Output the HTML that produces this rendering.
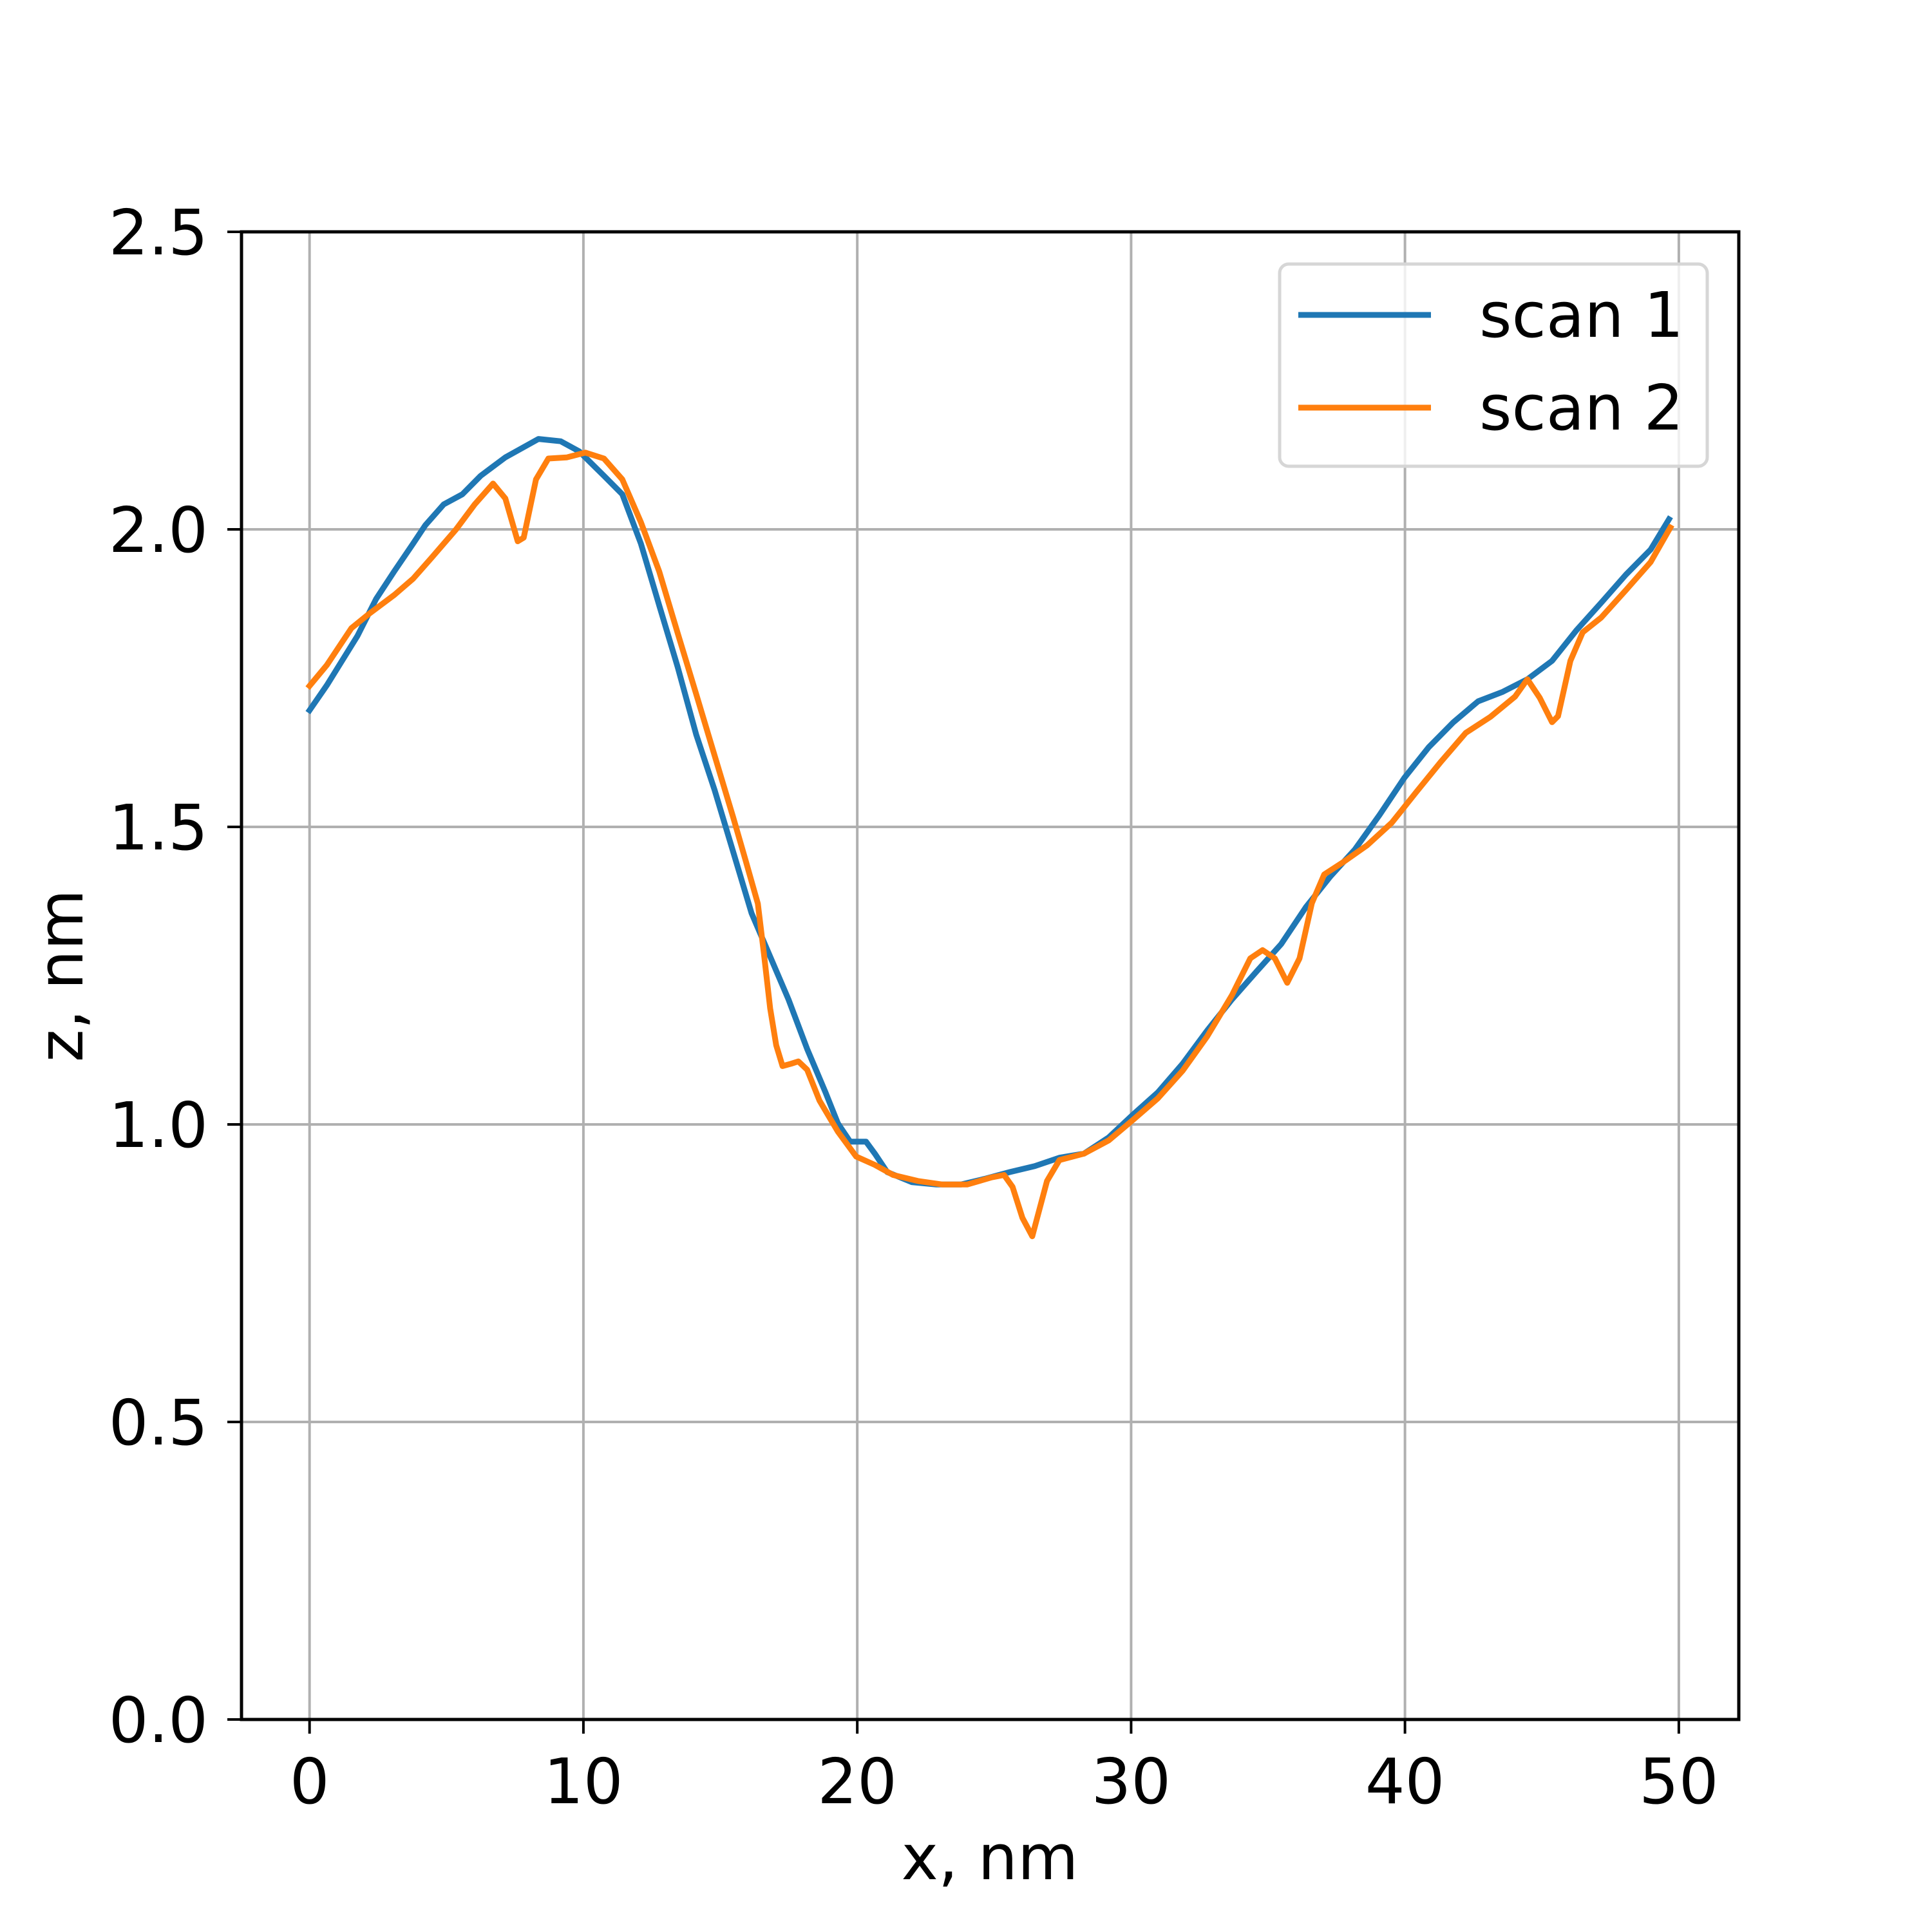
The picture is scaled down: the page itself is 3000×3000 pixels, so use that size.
<!DOCTYPE html>
<html><head><meta charset="utf-8"><style>
html,body{margin:0;padding:0;background:#fff}
svg{display:block}
text{font-family:"DejaVu Sans","Liberation Sans",sans-serif;fill:#000}
</style></head><body>
<svg id="chart" width="3000" height="3000" viewBox="0 0 3000 3000" xmlns="http://www.w3.org/2000/svg">
<rect x="0" y="0" width="3000" height="3000" fill="#fff"/>
<g id="grid"></g>
<g id="series"></g>
<rect x="375" y="360" width="2325" height="2310" fill="none" stroke="#000" stroke-width="5"/>
<g id="ticks"></g>
<text x="1537" y="2918" font-size="97" text-anchor="middle">x, nm</text>
<text x="0" y="0" font-size="97" text-anchor="middle" transform="translate(128,1515) rotate(-90)">z, nm</text>
<g>
<rect x="1987" y="410" width="664" height="314" rx="14" fill="#fff" fill-opacity="0.8" stroke="#d6d6d6" stroke-width="5"/>
<line x1="2016" y1="489" x2="2222" y2="489" stroke="#1f77b4" stroke-width="9"/>
<text x="2297" y="523" font-size="97">scan 1</text>
<line x1="2016" y1="633" x2="2222" y2="633" stroke="#ff7f0e" stroke-width="9"/>
<text x="2297" y="667" font-size="97">scan 2</text>
</g>
</svg>
<script>
const xTicks = [0,10,20,30,40,50];
const yTicks = [0,0.5,1.0,1.5,2.0,2.5];
const yTickLabels = ["0.0","0.5","1.0","1.5","2.0","2.5"];
const scan1X = [0,0.63,1.75,2.43,3.10,3.78,4.23,4.90,5.58,6.25,7.15,8.36,9.17,9.85,10.75,11.42,12.10,12.77,13.44,14.12,14.79,15.47,16.14,16.82,17.49,18.17,18.84,19.29,19.74,20.32,20.64,21.09,21.99,22.89,23.79,24.69,25.58,26.48,27.38,28.28,29.18,30.08,30.98,31.88,32.78,33.68,34.58,35.48,36.38,37.28,38.17,39.07,39.97,40.87,41.77,42.67,43.57,44.47,45.37,46.27,47.17,48.07,48.97,49.64];
const scan1Z = [1.696,1.738,1.821,1.883,1.930,1.976,2.007,2.042,2.059,2.090,2.121,2.152,2.148,2.131,2.090,2.059,1.976,1.872,1.769,1.655,1.562,1.458,1.355,1.282,1.210,1.127,1.054,1.002,0.971,0.971,0.951,0.920,0.903,0.899,0.899,0.909,0.920,0.930,0.944,0.951,0.978,1.017,1.054,1.102,1.158,1.210,1.257,1.303,1.365,1.417,1.462,1.520,1.582,1.634,1.676,1.711,1.727,1.748,1.779,1.831,1.877,1.924,1.966,2.017];
const scan2X = [0,0.63,1.53,2.20,3.10,3.78,4.45,5.35,6.03,6.70,7.15,7.60,7.82,8.27,8.72,9.40,10.07,10.75,11.42,12.10,12.77,13.44,14.12,14.79,15.47,15.92,16.37,16.59,16.82,17.04,17.27,17.58,17.85,18.17,18.62,19.29,19.96,20.64,21.31,22.21,23.11,24.01,24.91,25.36,25.67,26.03,26.39,26.57,26.93,27.38,28.28,29.18,30.08,30.98,31.88,32.78,33.68,34.35,34.80,35.25,35.70,36.15,36.60,37.05,37.72,38.62,39.52,40.42,41.32,42.22,43.12,44.02,44.47,44.92,45.37,45.59,46.04,46.49,47.17,48.07,48.97,49.69];
const scan2Z = [1.737,1.772,1.834,1.859,1.890,1.917,1.952,2.000,2.042,2.077,2.052,1.980,1.986,2.084,2.119,2.121,2.129,2.119,2.084,2.012,1.929,1.826,1.723,1.620,1.516,1.444,1.371,1.288,1.195,1.133,1.098,1.102,1.106,1.092,1.040,0.988,0.946,0.932,0.915,0.905,0.899,0.899,0.911,0.915,0.895,0.843,0.812,0.843,0.905,0.940,0.951,0.973,1.008,1.044,1.090,1.148,1.217,1.279,1.293,1.279,1.238,1.279,1.372,1.420,1.440,1.469,1.507,1.559,1.610,1.658,1.685,1.719,1.748,1.717,1.676,1.686,1.779,1.827,1.852,1.898,1.945,2.003];

const NS = "http://www.w3.org/2000/svg";
const L = 375, R = 2700, T = 360, B = 2670;
const xMin = -2.485, xMax = 52.19, yMin = 0, yMax = 2.5;
function sx(v){ return L + (v - xMin) / (xMax - xMin) * (R - L); }
function sy(v){ return B - (v - yMin) / (yMax - yMin) * (B - T); }
function mk(tag, attrs, parent){
  const e = document.createElementNS(NS, tag);
  for (const k in attrs) e.setAttribute(k, attrs[k]);
  parent.appendChild(e);
  return e;
}
const grid = document.getElementById('grid');
const ticks = document.getElementById('ticks');
xTicks.forEach(function(v){
  const x = sx(v);
  const g = mk('line', {x1:x, y1:T, x2:x, y2:B, stroke:'#b0b0b0', 'stroke-width':4}, grid);
  
  
  const t = mk('line', {x1:x, y1:B, x2:x, y2:B+22, stroke:'#000', 'stroke-width':4}, ticks);
  
  
  const lb = mk('text', {x:x, y:2800, 'font-size':97, 'text-anchor':'middle'}, ticks);
  lb.textContent = String(v);
  
  
});
yTicks.forEach(function(v, i){
  const y = sy(v);
  const g = mk('line', {x1:L, y1:y, x2:R, y2:y, stroke:'#b0b0b0', 'stroke-width':4}, grid);
  
  
  const t = mk('line', {x1:L-22, y1:y, x2:L, y2:y, stroke:'#000', 'stroke-width':4}, ticks);
  
  
  const lb = mk('text', {x:323, y:y+35, 'font-size':97, 'text-anchor':'end'}, ticks);
  lb.textContent = yTickLabels[i];
  
  
});
const series = document.getElementById('series');
function drawLine(xs, zs, color, name){
  let d = '';
  for (let i = 0; i < xs.length; i++) d += (i ? 'L' : 'M') + sx(xs[i]).toFixed(1) + ',' + sy(zs[i]).toFixed(1);
  const p = mk('path', {d:d, fill:'none', stroke:color, 'stroke-width':9, 'stroke-linejoin':'round', 'stroke-linecap':'square'}, series);
  
  
}
drawLine(scan1X, scan1Z, '#1f77b4', 'scan-1-line');
drawLine(scan2X, scan2Z, '#ff7f0e', 'scan-2-line');
</script>
</body></html>
